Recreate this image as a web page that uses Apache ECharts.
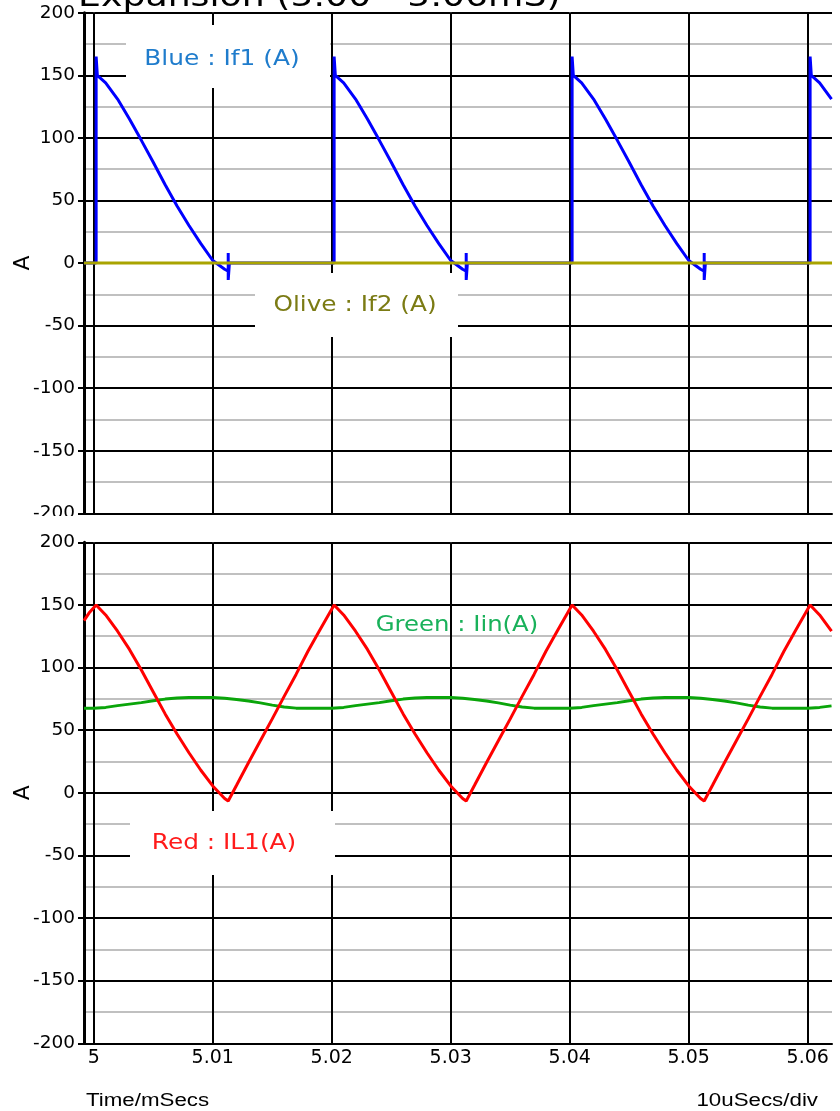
<!DOCTYPE html>
<html><head><meta charset="utf-8">
<script src="https://cdn.jsdelivr.net/npm/echarts@6/dist/echarts.min.js"></script>
<style>html,body{margin:0;padding:0;background:#fff}#c{width:840px;height:1111px}</style>
</head><body><div id="c"></div><script>
const X_MIN = 4.99918, X_MAX = 5.06204;
const majorX = [5.00, 5.01, 5.02, 5.03, 5.04, 5.05, 5.06];
const minorX = [5.005, 5.015, 5.025, 5.035, 5.045, 5.055];
const xTickLabels = ['5', '5.01', '5.02', '5.03', '5.04', '5.05', '5.06'];
const Y_MIN = -200, Y_MAX = 200, Y_STEP = 50;

const if1 = [
  [4.99918,0],[5.0002,0],[5.0002,165],[5.0003,150],[5.0010,144],[5.0020,131],[5.0030,115],[5.0040,98],[5.0050,80.5],[5.0060,62.5],[5.0070,45.5],[5.0080,30],[5.0090,15.5],[5.0100,2],[5.0110,-5],[5.0113,-6.5],[5.0113,8],[5.0113,-13.5],[5.0114,0],
  [5.0202,0],[5.0202,165],[5.0203,150],[5.0210,144],[5.0220,131],[5.0230,115],[5.0240,98],[5.0250,80.5],[5.0260,62.5],[5.0270,45.5],[5.0280,30],[5.0290,15.5],[5.0300,2],[5.0310,-5],[5.0313,-6.5],[5.0313,8],[5.0313,-13.5],[5.0314,0],
  [5.0402,0],[5.0402,165],[5.0403,150],[5.0410,144],[5.0420,131],[5.0430,115],[5.0440,98],[5.0450,80.5],[5.0460,62.5],[5.0470,45.5],[5.0480,30],[5.0490,15.5],[5.0500,2],[5.0510,-5],[5.0513,-6.5],[5.0513,8],[5.0513,-13.5],[5.0514,0],
  [5.0602,0],[5.0602,165],[5.0603,150],[5.0610,144],[5.0620,131]
];
const if2 = [[4.99918,0],[5.06204,0]];
const iin = [
  [4.99918,67.5],[5.000,67.5],[5.001,68.2],[5.002,69.6],[5.003,70.8],[5.004,72],[5.005,73.5],[5.006,74.8],[5.007,75.7],[5.008,76],[5.010,76],[5.011,75.5],[5.012,74.5],[5.013,73.3],[5.014,71.8],[5.015,70],[5.016,68.5],[5.017,67.6],
  [5.020,67.5],[5.021,68.2],[5.022,69.6],[5.023,70.8],[5.024,72],[5.025,73.5],[5.026,74.8],[5.027,75.7],[5.028,76],[5.030,76],[5.031,75.5],[5.032,74.5],[5.033,73.3],[5.034,71.8],[5.035,70],[5.036,68.5],[5.037,67.6],
  [5.040,67.5],[5.041,68.2],[5.042,69.6],[5.043,70.8],[5.044,72],[5.045,73.5],[5.046,74.8],[5.047,75.7],[5.048,76],[5.050,76],[5.051,75.5],[5.052,74.5],[5.053,73.3],[5.054,71.8],[5.055,70],[5.056,68.5],[5.057,67.6],
  [5.060,67.5],[5.061,68.2],[5.062,69.4]
];
const il1 = [
  [4.99918,137.5],[4.9996,143.5],
  [5.0002,150],[5.0010,142],[5.0020,129],[5.0030,114.5],[5.0040,98],[5.0050,80.5],[5.0060,63],[5.0070,47],[5.0080,32],[5.0090,18],[5.0100,5.5],[5.0110,-4.5],[5.0113,-6.5],[5.0120,6],[5.0130,24],[5.0140,41.5],[5.0150,59],[5.0160,77],[5.0170,94.5],[5.0180,113],[5.0190,130],
  [5.0202,150],[5.0210,142],[5.0220,129],[5.0230,114.5],[5.0240,98],[5.0250,80.5],[5.0260,63],[5.0270,47],[5.0280,32],[5.0290,18],[5.0300,5.5],[5.0310,-4.5],[5.0313,-6.5],[5.0320,6],[5.0330,24],[5.0340,41.5],[5.0350,59],[5.0360,77],[5.0370,94.5],[5.0380,113],[5.0390,130],
  [5.0402,150],[5.0410,142],[5.0420,129],[5.0430,114.5],[5.0440,98],[5.0450,80.5],[5.0460,63],[5.0470,47],[5.0480,32],[5.0490,18],[5.0500,5.5],[5.0510,-4.5],[5.0513,-6.5],[5.0520,6],[5.0530,24],[5.0540,41.5],[5.0550,59],[5.0560,77],[5.0570,94.5],[5.0580,113],[5.0590,130],
  [5.0602,150],[5.0610,142],[5.0620,129]
];

const labelTexts = {
  title: 'Expansion (5.00 - 5.06mS)',
  blue: 'Blue : If1 (A)', olive: 'Olive : If2 (A)', green: 'Green : Iin(A)', red: 'Red : IL1(A)',
  xName: 'Time/mSecs', xScale: '10uSecs/div', yName: 'A'
};

const chart = echarts.init(document.getElementById('c'), null, {renderer: 'canvas'});

function xAxisOpt(gridIndex, showLabels) {
  return {
    type: 'value', gridIndex, min: X_MIN, max: X_MAX,
    axisLine: {show: true, onZero: false, lineStyle: {color: '#000', width: 2}},
    axisTick: {show: false},
    splitLine: {show: false},
    axisLabel: {
      show: showLabels, customValues: majorX, margin: 5,
      fontFamily: 'DejaVu Sans', fontSize: 19, color: '#000',
      formatter: v => { const i = majorX.findIndex(m => Math.abs(m - v) < 1e-6); return i >= 0 ? xTickLabels[i] : ''; }
    }
  };
}
function yAxisOpt(gridIndex) {
  return {
    type: 'value', gridIndex, min: Y_MIN, max: Y_MAX, interval: Y_STEP,
    name: labelTexts.yName, nameLocation: 'middle', nameGap: 50, nameMoveOverlap: false,
    nameTextStyle: {fontFamily: 'DejaVu Sans', fontSize: 22, color: '#000'},
    axisLine: {show: true, onZero: false, lineStyle: {color: '#000', width: 3}},
    axisTick: {show: true, length: 6, lineStyle: {color: '#000', width: 2}},
    axisLabel: {fontFamily: 'DejaVu Sans', fontSize: 18.5, color: '#000', margin: 9},
    splitLine: {show: true, lineStyle: {color: '#000', width: 2}},
    minorTick: {show: false, splitNumber: 2},
    minorSplitLine: {show: true, lineStyle: {color: '#c0c0c0', width: 2}}
  };
}
function gridLinesSeries(idx) {
  const data = minorX.map(v => ({xAxis: v, lineStyle: {color: '#c0c0c0', width: 2, type: 'solid'}}))
    .concat(majorX.map(v => ({xAxis: v, lineStyle: {color: '#000', width: 2, type: 'solid'}})));
  return {
    type: 'line', xAxisIndex: idx, yAxisIndex: idx, data: [], z: 0, silent: true,
    markLine: {z: 0, silent: true, symbol: ['none', 'none'], label: {show: false}, animation: false, data}
  };
}
function trace(idx, data, color) {
  return {type: 'line', xAxisIndex: idx, yAxisIndex: idx, data, z: 3, showSymbol: false, symbol: 'none',
    lineStyle: {color, width: 3}, itemStyle: {color}, animation: false};
}
function box(x, y, w, h) {
  return {type: 'rect', z: 1, shape: {x, y, width: w, height: h}, style: {fill: '#fff'}, silent: true};
}
function label(x, y, text, color, size, family, align, sx) {
  return {type: 'text', z: 10, x, y, scaleX: sx, silent: true,
    style: {text, fill: color, font: size + 'px "' + family + '"', align: align, verticalAlign: 'middle'}};
}

chart.setOption({
  animation: false,
  backgroundColor: '#fff',
  grid: [
    {left: 84, right: 8, top: 12.7, height: 500.6, containLabel: false, outerBoundsMode: 'none'},
    {left: 84, right: 8, top: 542.3, height: 501, containLabel: false, outerBoundsMode: 'none'}
  ],
  xAxis: [xAxisOpt(0, false), xAxisOpt(1, true)],
  yAxis: [yAxisOpt(0), yAxisOpt(1)],
  series: [
    gridLinesSeries(0), gridLinesSeries(1),
    trace(0, if1, '#0000ff'), trace(0, if2, '#a9a400'),
    trace(1, iin, '#0aa50a'), trace(1, il1, '#ff0000')
  ],
  graphic: [
    box(126, 25, 204, 63), box(255, 273, 203, 64), box(130, 811, 205, 64),
    label(222, 59, labelTexts.blue, '#1f7ccc', 22, 'DejaVu Sans', 'center', 1.13),
    label(355, 306, labelTexts.olive, '#7b7b14', 21, 'DejaVu Sans', 'center', 1.18),
    label(457, 626, labelTexts.green, '#19b15a', 21, 'DejaVu Sans', 'center', 1.16),
    label(224, 844, labelTexts.red, '#ff1a1a', 21, 'DejaVu Sans', 'center', 1.18),
    label(78, -2, labelTexts.title, '#000', 31, 'DejaVu Sans', 'left', 1.17),
    label(86, 1101, labelTexts.xName, '#000', 18, 'Liberation Sans', 'left', 1.24),
    label(818, 1101, labelTexts.xScale, '#000', 18, 'Liberation Sans', 'right', 1.24),
    {type: 'rect', z: 20, shape: {x: 0, y: 516, width: 82, height: 12}, style: {fill: '#fff'}, silent: true}
  ]
});
</script></body></html>
